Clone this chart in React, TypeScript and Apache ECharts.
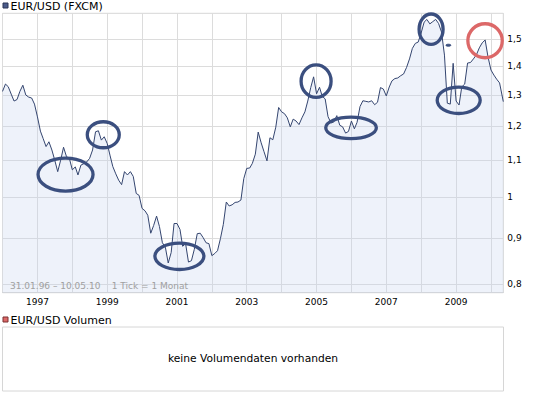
import React, { useEffect, useRef } from "react";
import * as echarts from "echarts";

// Monthly EUR/USD values (one per month, Jan..Dec)
const v1996 = [1.312, 1.337, 1.328, 1.303, 1.280, 1.285, 1.312, 1.333, 1.300, 1.293, 1.290, 1.270];
const v1997 = [1.229, 1.185, 1.163, 1.139, 1.153, 1.129, 1.100, 1.068, 1.100, 1.137, 1.110, 1.105];
const v1998 = [1.073, 1.081, 1.059, 1.086, 1.090, 1.095, 1.105, 1.129, 1.183, 1.186, 1.158, 1.168];
const v1999 = [1.148, 1.112, 1.082, 1.062, 1.045, 1.033, 1.068, 1.059, 1.068, 1.055, 1.010, 1.005];
const v2000 = [0.972, 0.966, 0.955, 0.912, 0.930, 0.953, 0.928, 0.890, 0.880, 0.845, 0.868, 0.935];
const v2001 = [0.935, 0.921, 0.882, 0.888, 0.847, 0.850, 0.875, 0.911, 0.912, 0.902, 0.890, 0.888];
const v2002 = [0.861, 0.866, 0.872, 0.900, 0.933, 0.988, 0.978, 0.981, 0.987, 0.988, 0.993, 1.049];
const v2003 = [1.077, 1.078, 1.091, 1.117, 1.182, 1.150, 1.124, 1.098, 1.165, 1.159, 1.197, 1.259];
const v2004 = [1.245, 1.239, 1.226, 1.198, 1.222, 1.216, 1.205, 1.226, 1.245, 1.280, 1.325, 1.362];
const v2005 = [1.304, 1.326, 1.296, 1.287, 1.230, 1.210, 1.213, 1.233, 1.203, 1.198, 1.179, 1.184];
const v2006 = [1.216, 1.192, 1.212, 1.262, 1.281, 1.279, 1.277, 1.281, 1.268, 1.276, 1.325, 1.320];
const v2007 = [1.297, 1.327, 1.348, 1.356, 1.358, 1.366, 1.372, 1.395, 1.426, 1.465, 1.484, 1.489];
const v2008 = [1.524, 1.567, 1.578, 1.560, 1.569, 1.578, 1.562, 1.528, 1.440, 1.273, 1.270, 1.410];
const v2009 = [1.280, 1.267, 1.327, 1.337, 1.411, 1.413, 1.426, 1.441, 1.467, 1.486, 1.497, 1.433];
const v2010 = [1.386, 1.368, 1.354, 1.341, 1.278];

const startYear = 1996;
const yearly = [v1996, v1997, v1998, v1999, v2000, v2001, v2002, v2003, v2004, v2005, v2006, v2007, v2008, v2009, v2010];
const lastDate: [number, number, number] = [2010, 4, 10];
const axisMinDate: [number, number, number] = [1996, 0, 1];
const axisMaxDate: [number, number, number] = [2010, 4, 10];
const YEAR_MS = 365.25 * 86400000;

const yTicks = [0.8, 0.9, 1, 1.1, 1.2, 1.3, 1.4, 1.5];
const labelYears = [1997, 1999, 2001, 2003, 2005, 2007, 2009];

const BLUE = "#3b4f7f";
const RED = "#dc6868";
const annotations = [
  { date: [1997, 9, 22], value: 1.060, rx: 27.5, ry: 16.5, color: BLUE, fill: false },
  { date: [1998, 10, 21], value: 1.174, rx: 16, ry: 13, color: BLUE, fill: false },
  { date: [2001, 0, 26], value: 0.8596, rx: 24.5, ry: 13.2, color: BLUE, fill: false },
  { date: [2004, 11, 27], value: 1.347, rx: 15, ry: 16.3, color: BLUE, fill: false },
  { date: [2005, 11, 28], value: 1.195, rx: 25.3, ry: 10.7, color: BLUE, fill: false },
  { date: [2008, 3, 14], value: 1.539, rx: 12, ry: 15.2, color: BLUE, fill: false },
  { date: [2009, 0, 28], value: 1.2825, rx: 21.5, ry: 13.2, color: BLUE, fill: false },
  { date: [2009, 9, 31], value: 1.494, rx: 17.2, ry: 17, color: RED, fill: false },
  { date: [2008, 9, 12], value: 1.477, rx: 2.5, ry: 1, color: BLUE, fill: true },
];

const FONT = "DejaVu Sans, Verdana, sans-serif";
const ts = (d: number[]) => Date.UTC(d[0], d[1], d[2]);

export default function App() {
  const ref = useRef<HTMLDivElement>(null);
  useEffect(() => {
    if (!ref.current) return;
    const chart = echarts.init(ref.current, undefined, { renderer: "svg" });
    const data: [number, number][] = [];
    yearly.forEach((arr, i) => {
      const y = startYear + i;
      arr.forEach((v, m) => {
        const isLast = i === yearly.length - 1 && m === arr.length - 1;
        data.push([isLast ? ts(lastDate) : Date.UTC(y, m, 1), v]);
      });
    });
    chart.setOption({
      animation: false,
      grid: {
        left: 2.5,
        right: 41.7,
        top: 13.3,
        bottom: 102.3,
        show: true,
        borderColor: "#d6d6d6",
        borderWidth: 1,
        backgroundColor: "#ffffff",
      },
      xAxis: {
        type: "value",
        min: ts(axisMinDate),
        max: ts(axisMaxDate),
        interval: YEAR_MS,
        axisLine: { show: true, lineStyle: { color: "#d6d6d6" } },
        axisTick: { show: false },
        axisLabel: {
          customValues: labelYears.map((y) => Date.UTC(y, 0, 1)),
          formatter: (v: number) => String(new Date(v).getUTCFullYear()),
          fontSize: 9,
          fontFamily: FONT,
          color: "#000",
          margin: 5,
        },
        splitLine: { show: true, lineStyle: { color: "#dcdcdc", width: 1 } },
      },
      yAxis: {
        type: "log",
        logBase: 10,
        min: 0.783,
        max: 1.603,
        position: "right",
        axisLine: { show: false },
        axisTick: { show: false, customValues: yTicks },
        axisLabel: {
          customValues: yTicks,
          formatter: (v: number) => String(Math.round(v * 10) / 10).replace(".", ","),
          fontSize: 9,
          fontFamily: FONT,
          color: "#000",
          margin: 4,
        },
        splitLine: { show: true, lineStyle: { color: "#dcdcdc", width: 1 } },
      },
      series: [
        {
          type: "line",
          data,
          showSymbol: false,
          symbol: "none",
          lineStyle: { color: "#34456f", width: 1 },
          areaStyle: { color: "rgb(200,211,238)", opacity: 0.3, origin: "start" },
          z: 2,
        },
        {
          type: "custom",
          coordinateSystem: "cartesian2d",
          clip: false,
          silent: true,
          z: 10,
          data: annotations.map((a) => [ts(a.date), a.value]),
          renderItem: (params: any, api: any) => {
            const a = annotations[params.dataIndex];
            const p = api.coord([api.value(0), api.value(1)]);
            return {
              type: "ellipse",
              shape: { cx: p[0], cy: p[1], rx: a.rx, ry: a.ry },
              style: a.fill
                ? { fill: a.color, stroke: a.color, lineWidth: 1 }
                : { fill: "none", stroke: a.color, lineWidth: 3.3 },
            };
          },
        },
      ],
      graphic: [
        { type: "rect", shape: { x: 3, y: 3, width: 5, height: 5 }, style: { fill: "#4b5b8a", stroke: "#2b3555", lineWidth: 1 } },
        { type: "text", x: 10.5, y: 6.5, style: { text: "EUR/USD (FXCM)", font: `11px ${FONT}`, fill: "#000", verticalAlign: "middle" } },
        { type: "text", x: 10, y: 285.5, z: 5, style: { text: "31.01.96 – 10.05.10", font: `9px ${FONT}`, fill: "#a0a0a0", verticalAlign: "middle" } },
        { type: "text", x: 111.7, y: 285.5, z: 5, style: { text: "1 Tick = 1 Monat", font: `9px ${FONT}`, fill: "#a0a0a0", verticalAlign: "middle" } },
        { type: "rect", shape: { x: 3, y: 317, width: 5, height: 5 }, style: { fill: "#dc6868", stroke: "#7a3030", lineWidth: 1 } },
        { type: "text", x: 10.5, y: 320, style: { text: "EUR/USD Volumen", font: `11px ${FONT}`, fill: "#000", verticalAlign: "middle" } },
        { type: "rect", shape: { x: 2.5, y: 327, width: 501, height: 64 }, style: { fill: "#ffffff", stroke: "#d6d6d6", lineWidth: 1 } },
        { type: "text", x: 253, y: 358, style: { text: "keine Volumendaten vorhanden", font: `10.7px ${FONT}`, fill: "#000", align: "center", verticalAlign: "middle" } },
      ],
    });
    return () => chart.dispose();
  }, []);
  return <div ref={ref} style={{ position: "absolute", left: 0, top: 0, width: 545, height: 395 }} />;
}
